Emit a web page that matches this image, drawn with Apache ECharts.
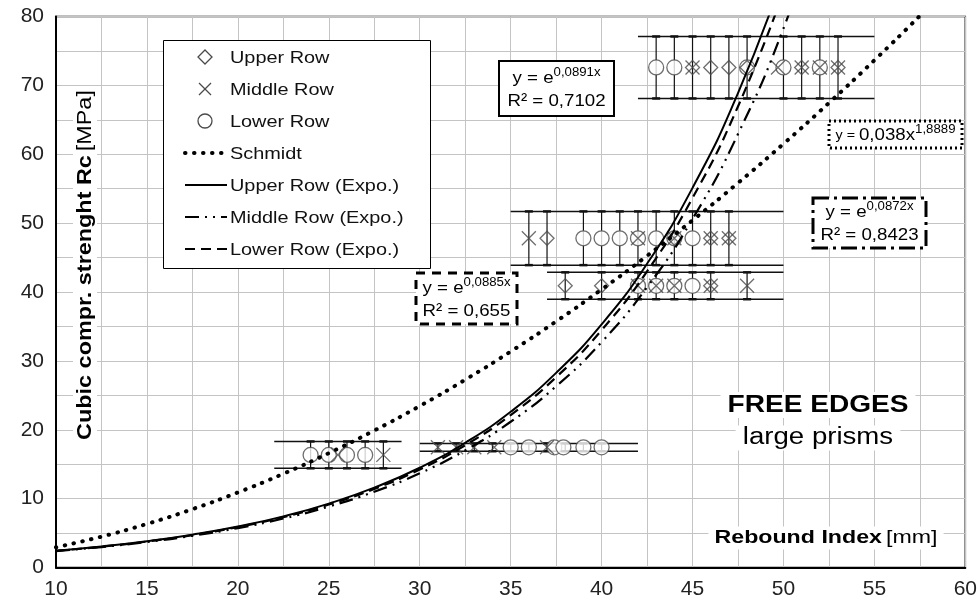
<!DOCTYPE html>
<html><head><meta charset="utf-8">
<script src="https://cdn.jsdelivr.net/npm/echarts@6/dist/echarts.min.js"></script>
<style>html,body{margin:0;padding:0;background:#fff}#c{width:980px;height:609px}</style>
</head><body><div id="c"></div>
<script>
const FONT = '"Liberation Sans", Arial, sans-serif';

// measured points (x = rebound index, y = strength)
const upperRow = [[45,72.6],[46,72.6],[47,72.6],[48,72.6],[51,72.6],[53,72.6],
  [37,47.8],[44,47.8],[46,47.8],[47,47.8],[38,40.9],[40,40.9],[46,40.9]];
const middleRow = [[45,72.6],[49.7,72.6],[51,72.6],[52,72.6],[53,72.6],
  [36,47.8],[42,47.8],[44,47.8],[46,47.8],[47,47.8],
  [42,40.9],[43,40.9],[44,40.9],[46,40.9],[48,40.9],
  [31,17.45],[32,17.45],[33,17.45],[34.1,17.45],[37,17.45],[25.5,16.35],[28,16.35]];
const lowerRow = [[43,72.6],[44,72.6],[48,72.6],[50,72.6],[52,72.6],
  [39,47.8],[40,47.8],[41,47.8],[42,47.8],[43,47.8],[44,47.8],[45,47.8],
  [42,40.9],[43,40.9],[44,40.9],[45,40.9],
  [35,17.45],[36,17.45],[37.4,17.45],[37.9,17.45],[39,17.45],[40,17.45],
  [24,16.35],[25,16.35],[26,16.35],[27,16.35]];

// clusters: centre value, error half-range, horizontal band extent
const clusterY = [72.6, 47.8, 40.9, 17.45, 16.35];
const clusterErr = [4.5, 3.9, 1.95, 0.57, 1.95];
const clusterFrom = [42, 35, 37, 30, 22];
const clusterTo = [55, 50, 50, 42, 29];
const clusterBarX = [[43,44,45,46,47,48,50,51,52,53],[36,37,39,40,41,42,43,44,45,46,47],
  [38,40,42,43,44,45,46,48],[31,32,33,34,35,36,37,38,39,40],[24,25,26,27,28]];

// trend lines
const trendX = [10,12.5,15,17.5,20,22.5,25,27.5,30,32.5,35,37.5,40,42.5,45,47.5,50,52.5,55,57.5,60];
const upperExpo = [2.44,3.05,3.81,4.76,5.94,7.42,9.28,11.59,14.48,18.10,22.61,28.26,35.30,44.11,55.12,68.87,86.06];
const middleExpo = [2.39,2.97,3.70,4.60,5.72,7.11,8.85,11.00,13.68,17.01,21.16,26.31,32.72,40.69,50.60,62.93,78.26,97.32];
const lowerExpo = [2.42,3.02,3.77,4.71,5.87,7.32,9.14,11.40,14.23,17.75,22.14,27.63,34.47,43.00,53.65,66.94,83.51];
const schmidt = [2.94,4.48,6.33,8.47,10.90,13.61,16.61,19.89,23.44,27.26,31.36,35.73,40.36,45.25,50.41,55.83,61.51,67.45,73.65,80.10,86.81];

const legendNames = ['Upper Row','Middle Row','Lower Row','Schmidt','Upper Row (Expo.)','Middle Row (Expo.)','Lower Row (Expo.)'];

const xMin = 10, xMax = 60, xStep = 5;
const yMin = 0, yMax = 80, yStep = 10;

const pairs = vals => vals.map((v, i) => [trendX[i], v]);
const bandData = clusterY.map((y, i) => [clusterFrom[i], clusterTo[i], y, clusterErr[i]]);
const barData = [];
clusterBarX.forEach((xs, i) => xs.forEach(x => barData.push([x, clusterY[i], clusterErr[i]])));

const MK = '#4a4a4a';
const XPATH = 'path://M0,0L10,10M10,0L0,10';
const DOTS = [0.5, 8.5], DASHDOT = [14, 6, 2, 6, 2, 6], DASH = [10, 6];
const SX = 1.17; // horizontal text stretch of the original

// legend built from graphic elements
const legX = 163, legY = 40, legW = 267, legH = 228, rowY0 = 57, rowStep = 32;
const legendGraphic = [{ type: 'rect', z: 40, shape: { x: legX + 0.5, y: legY + 0.5, width: legW, height: legH },
  style: { fill: '#fff', stroke: '#000', lineWidth: 1 } }];
legendNames.forEach((name, i) => {
  const cy = rowY0 + i * rowStep, cx = 205;
  const icons = [];
  if (i === 0) icons.push({ type: 'polygon', shape: { points: [[cx, cy - 7], [cx + 7, cy], [cx, cy + 7], [cx - 7, cy]] }, style: { fill: 'none', stroke: MK, lineWidth: 1.3 } });
  else if (i === 1) {
    icons.push({ type: 'line', shape: { x1: cx - 6, y1: cy - 6, x2: cx + 6, y2: cy + 6 }, style: { stroke: MK, lineWidth: 1.3 } });
    icons.push({ type: 'line', shape: { x1: cx + 6, y1: cy - 6, x2: cx - 6, y2: cy + 6 }, style: { stroke: MK, lineWidth: 1.3 } });
  }
  else if (i === 2) icons.push({ type: 'circle', shape: { cx: cx, cy: cy, r: 7 }, style: { fill: '#fff', stroke: MK, lineWidth: 1.3 } });
  else {
    const st = { stroke: '#000', lineWidth: 2.2 };
    if (i === 3) Object.assign(st, { lineWidth: 4, lineDash: DOTS, lineCap: 'round' });
    if (i === 5) st.lineDash = DASHDOT;
    if (i === 6) st.lineDash = DASH;
    icons.push({ type: 'line', shape: { x1: 185, y1: cy, x2: 227, y2: cy }, style: st });
  }
  icons.forEach(ic => { ic.z = 41; legendGraphic.push(ic); });
  legendGraphic.push({ type: 'text', z: 41, x: 230, y: cy + 1, scaleX: SX,
    style: { text: name, font: '17px ' + FONT, fill: '#111', align: 'left', verticalAlign: 'middle' } });
});

function eqBox(x, y, w, h, dash, lines) {
  const rect = { type: 'rect', z: 30, shape: { x: x, y: y, width: w, height: h },
    style: { fill: '#fff', stroke: '#000', lineWidth: dash ? 3 : 2, lineDash: dash || null } };
  const txt = { type: 'text', x: x + w / 2, y: y + h / 2 + 1, z: 31, scaleX: 1.1,
    style: { text: lines, align: 'center', verticalAlign: 'middle',
      rich: { n: { fontFamily: FONT, fontSize: 17, lineHeight: 23, fill: '#000' },
              m: { fontFamily: FONT, fontSize: 13, lineHeight: 22, fill: '#000' },
              s: { fontFamily: FONT, fontSize: 12, lineHeight: 23, verticalAlign: 'top', fill: '#000' } } } };
  return [rect, txt];
}

const chart = echarts.init(document.getElementById('c'), null, { renderer: 'canvas' });
chart.setOption({
  animation: false,
  backgroundColor: '#fff',
  grid: { left: 56, right: 14, top: 16.5, bottom: 41.5, show: true, borderColor: '#000', borderWidth: 1.5 },
  xAxis: {
    type: 'value', min: xMin, max: xMax, interval: xStep,
    axisLine: { show: true, lineStyle: { color: '#000', width: 2 } },
    axisTick: { show: false },
    axisLabel: { fontFamily: FONT, fontSize: 21, color: '#222', margin: 11 },
    splitLine: { show: true, lineStyle: { color: '#c4c4c4', width: 1 } },
    minorTick: { show: false, splitNumber: 2 },
    minorSplitLine: { show: true, lineStyle: { color: '#c4c4c4', width: 1 } }
  },
  yAxis: {
    type: 'value', min: yMin, max: yMax, interval: yStep,
    axisLine: { show: true, lineStyle: { color: '#000', width: 2 } },
    axisTick: { show: false },
    axisLabel: { fontFamily: FONT, fontSize: 21, color: '#222', margin: 12 },
    splitLine: { show: true, lineStyle: { color: '#c4c4c4', width: 1 } },
    minorTick: { show: false, splitNumber: 2 },
    minorSplitLine: { show: true, lineStyle: { color: '#c4c4c4', width: 1 } }
  },
  series: [
    {
      type: 'custom', name: 'bands', silent: true, z: 2,
      encode: { x: [0, 1], y: 2 },
      data: bandData,
      renderItem: (params, api) => {
        const a = api.coord([api.value(0), api.value(2) + api.value(3)]);
        const b = api.coord([api.value(1), api.value(2) + api.value(3)]);
        const c = api.coord([api.value(0), api.value(2) - api.value(3)]);
        const d = api.coord([api.value(1), api.value(2) - api.value(3)]);
        const st = { stroke: '#111', lineWidth: 1.5 };
        return { type: 'group', children: [
          { type: 'line', shape: { x1: a[0], y1: a[1], x2: b[0], y2: b[1] }, style: st },
          { type: 'line', shape: { x1: c[0], y1: c[1], x2: d[0], y2: d[1] }, style: st }
        ] };
      }
    },
    {
      type: 'custom', name: 'errors', silent: true, z: 2,
      encode: { x: 0, y: 1 },
      data: barData,
      renderItem: (params, api) => {
        const t = api.coord([api.value(0), api.value(1) + api.value(2)]);
        const b = api.coord([api.value(0), api.value(1) - api.value(2)]);
        return { type: 'group', children: [
          { type: 'line', shape: { x1: t[0], y1: t[1], x2: b[0], y2: b[1] }, style: { stroke: '#111', lineWidth: 1.2 } },
          { type: 'line', shape: { x1: t[0] - 4, y1: t[1], x2: t[0] + 4, y2: t[1] }, style: { stroke: '#111', lineWidth: 2.5 } },
          { type: 'line', shape: { x1: b[0] - 4, y1: b[1], x2: b[0] + 4, y2: b[1] }, style: { stroke: '#111', lineWidth: 2.5 } }
        ] };
      }
    },
    { type: 'scatter', name: 'Lower Row', data: lowerRow, symbol: 'circle', symbolSize: 15,
      itemStyle: { color: '#fff', borderColor: MK, borderWidth: 1.3 }, z: 3 },
    { type: 'scatter', name: 'Middle Row', data: middleRow, symbol: XPATH, symbolSize: 14,
      itemStyle: { color: 'rgba(0,0,0,0)', borderColor: MK, borderWidth: 1.3 }, z: 4 },
    { type: 'scatter', name: 'Upper Row', data: upperRow, symbol: 'diamond', symbolSize: 14,
      itemStyle: { color: 'rgba(0,0,0,0)', borderColor: MK, borderWidth: 1.3 }, z: 5 },
    { type: 'line', name: 'Schmidt', data: pairs(schmidt), smooth: true, symbol: 'none', z: 6,
      lineStyle: { color: '#000', width: 4, type: DOTS, cap: 'round' } },
    { type: 'line', name: 'Upper Row (Expo.)', data: pairs(upperExpo), smooth: true, symbol: 'none', z: 6,
      lineStyle: { color: '#000', width: 2 } },
    { type: 'line', name: 'Middle Row (Expo.)', data: pairs(middleExpo), smooth: true, symbol: 'none', z: 6,
      lineStyle: { color: '#000', width: 2.2, type: DASHDOT } },
    { type: 'line', name: 'Lower Row (Expo.)', data: pairs(lowerExpo), smooth: true, symbol: 'none', z: 6,
      lineStyle: { color: '#000', width: 2.2, type: DASH } }
  ],
  graphic: [
    // y axis title
    { type: 'text', x: 85, y: 265, rotation: Math.PI / 2, scaleX: SX, z: 30,
      style: { text: '{b|Cubic compr. strenght Rc} {n|[MPa]}', align: 'center', verticalAlign: 'middle',
        backgroundColor: '#fff', padding: [2, 3],
        rich: { b: { fontFamily: FONT, fontSize: 20, fontWeight: 'bold', fill: '#000' },
                n: { fontFamily: FONT, fontSize: 20, fill: '#000' } } } },
    // x axis title
    { type: 'text', x: 826, y: 538, scaleX: 1.22, z: 30,
      style: { text: '{b|Rebound Index} {n|[mm]}', align: 'center', verticalAlign: 'middle',
        backgroundColor: '#fff', padding: [2, 5],
        rich: { b: { fontFamily: FONT, fontSize: 19, fontWeight: 'bold', fill: '#000' },
                n: { fontFamily: FONT, fontSize: 19, fill: '#000' } } } },
    // FREE EDGES
    { type: 'text', x: 818, y: 405, scaleX: SX, z: 30,
      style: { text: 'FREE EDGES', align: 'center', verticalAlign: 'middle', backgroundColor: '#fff', padding: [1, 6],
        font: 'bold 24px ' + FONT, fill: '#000' } },
    { type: 'text', x: 818, y: 438, scaleX: 1.2, z: 30,
      style: { text: 'large prisms', align: 'center', verticalAlign: 'middle', backgroundColor: '#fff', padding: [1, 6],
        font: '23px ' + FONT, fill: '#000' } },
    ...eqBox(499, 61, 115, 55, null, '{n|y = e}{s|0,0891x}\n{n|R² = 0,7102}'),
    ...eqBox(416, 273, 101, 51, [9, 7], '{n|y = e}{s|0,0885x}\n{n|R² = 0,655}'),
    ...eqBox(829, 121, 133, 27, [2, 3], '{m|y = }{n|0,038x}{s|1,8889}'),
    ...eqBox(813, 198, 113, 50, [16, 5, 3, 5], '{n|y = e}{s|0,0872x}\n{n|R² = 0,8423}'),
    ...legendGraphic
  ]
});
</script></body></html>
